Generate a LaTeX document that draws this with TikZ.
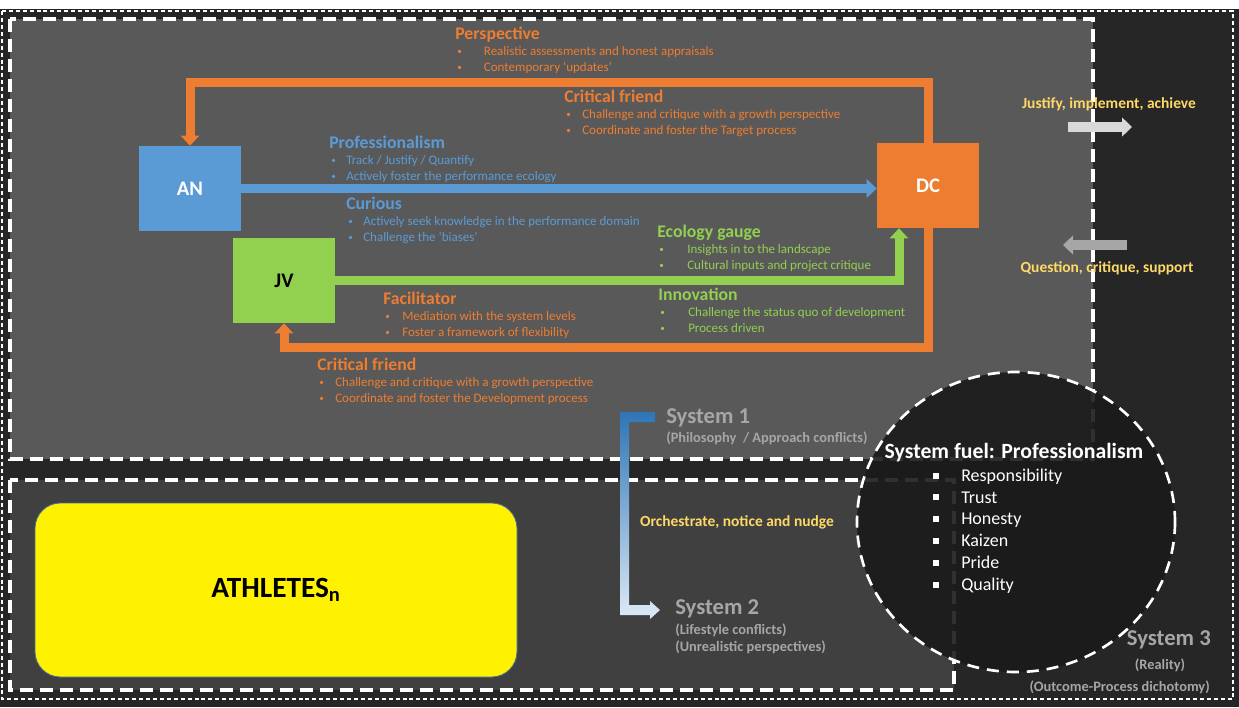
\documentclass[tikz,border=0pt]{standalone}
\usepackage{fontspec}
\setmainfont{Carlito}
\usetikzlibrary{arrows.meta,calc,positioning}

\definecolor{bgdark}{HTML}{262626}
\definecolor{sysonefill}{HTML}{595959}
\definecolor{systwofill}{HTML}{404040}
\definecolor{fuelfill}{HTML}{1A1A1A}
\definecolor{anblue}{HTML}{5B9BD5}
\definecolor{dcorange}{HTML}{ED7D31}
\definecolor{jvgreen}{HTML}{92D050}
\definecolor{noteyellow}{HTML}{FFD966}
\definecolor{sysgray}{HTML}{A6A6A6}
\definecolor{arrowlight}{HTML}{D9D9D9}
\definecolor{arrowmid}{HTML}{A6A6A6}
\definecolor{sysblue}{HTML}{2E75B6}
\definecolor{syspale}{HTML}{DEEBF7}

\newcommand{\smallbul}{\raisebox{0.5pt}{\scalebox{0.7}{\textbullet}}}
\newcommand{\rolenote}[8]{%
  \node[roletitle, text=#2] (#1) at (#3,#4) {#6};
  \node[roleitem, text=#2] (#1-a) at ($(#1.west)+(2,17)$) {\makebox[#5][l]{\smallbul}#7};
  \node[roleitem, text=#2] (#1-b) at ($(#1-a.west)+(0,16)$) {\makebox[#5][l]{\smallbul}#8};
}

\tikzset{
  role/.style={minimum width=76.5pt, minimum height=63.75pt, inner sep=0pt, font=\fontsize{15.5}{18}\selectfont\bfseries},
  roletitle/.style={anchor=west, inner sep=0pt, yshift=-1.5pt, text height=10pt, text depth=3pt, font=\fontsize{13.3}{16}\selectfont\bfseries},
  roleitem/.style={anchor=west, inner sep=0pt, text height=7.5pt, text depth=2.5pt, font=\fontsize{9.75}{12}\selectfont},
  flow/.style={line width=6.75pt, -{Triangle[width=13.5pt,length=7.5pt]}},
  blockarrow/.style={line width=7.5pt, -{Triangle[width=14pt,length=7.5pt]}},
  sysdash/.style={draw=white, line width=2.3pt, dash pattern=on 9.4pt off 5.6pt},
  note/.style={inner sep=0pt, text=noteyellow, font=\fontsize{11.6}{14}\selectfont\bfseries},
  syslabel/.style={anchor=west, inner sep=0pt, text=sysgray, font=\fontsize{17}{20}\selectfont\bfseries},
  syssub/.style={anchor=west, inner sep=0pt, text=sysgray, text height=7.5pt, text depth=2.5pt, font=\fontsize{10.8}{13}\selectfont\bfseries},
  fuelitem/.style={anchor=west, inner sep=0pt, text=white, text height=9.5pt, text depth=3pt, font=\fontsize{13.5}{16}\selectfont}
}

\begin{document}
\begin{tikzpicture}[x=0.75pt,y=-0.75pt,line join=miter]
\useasboundingbox (0,0) rectangle (1239,707);
\fill[white] (0,0) rectangle (1239,707);
\fill[bgdark] (0,9) rectangle (1239,707);
\draw[white, line width=0.8pt, dash pattern=on 3pt off 2.2pt] (2,11) rectangle (1233,699);

% system areas
\filldraw[fill=sysonefill, sysdash] (10,19) rectangle (1093,459);
\filldraw[fill=systwofill, sysdash] (10,480) rectangle (954,690);
\filldraw[fill=fuelfill, fill opacity=0.9, draw=white, line width=2pt, dash pattern=on 9pt off 6pt] (1016,522) ellipse [x radius=159, y radius=150];

% roles
\node[role, fill=anblue, text=white] (an) at (190,188.5) {AN};
\node[role, fill=jvgreen, text=black] (jv) at (284,280.5) {JV};
\node[role, fill=dcorange, text=white] (dc) at (928,185.5) {DC};
\coordinate (topturn) at (560,82);
\coordinate (lowturn) at (600,347);

\draw[flow, anblue] (an.east) -- (an.east -| dc.west);
\draw[flow, dcorange] (dc.north) |- (topturn) -| (an.north);
\draw[flow, jvgreen] (jv.east) -| ($(dc.south)+(-29,0)$);
\draw[flow, dcorange] (dc.south) |- (lowturn) -| (jv.south);

\rolenote{persp}{dcorange}{455}{33}{20pt}{Perspective}{Realistic assessments and honest appraisals}{Contemporary ‘updates’}
\rolenote{crittop}{dcorange}{564}{96}{12pt}{Critical friend}{Challenge and critique with a growth perspective}{Coordinate and foster the Target process}
\rolenote{prof}{anblue}{329}{142}{11.25pt}{Professionalism}{Track / Justify / Quantify}{Actively foster the performance ecology}
\rolenote{curious}{anblue}{346}{203}{11.25pt}{Curious}{Actively seek knowledge in the performance domain}{Challenge the ‘biases’}
\rolenote{ecology}{jvgreen}{657}{231}{21pt}{Ecology gauge}{Insights in to the landscape}{Cultural inputs and project critique}
\rolenote{facil}{dcorange}{383}{298}{12.75pt}{Facilitator}{Mediation with the system levels}{Foster a framework of flexibility}
\rolenote{innov}{jvgreen}{658}{294}{21pt}{Innovation}{Challenge the status quo of development}{Process driven}
\rolenote{critlow}{dcorange}{317}{364}{12pt}{Critical friend}{Challenge and critique with a growth perspective}{Coordinate and foster the Development process}

% system 3 traffic
\node[note] (justify) at (1109,104) {Justify, implement, achieve};
\node[note] (question) at (1107,268) {Question, critique, support};
\coordinate (jfrom) at (1068,127);
\coordinate (jto) at (1132,127);
\coordinate (qfrom) at (1127,245);
\coordinate (qto) at (1063,245);
\draw[blockarrow, arrowlight] (jfrom) -- (jto);
\draw[blockarrow, arrowmid] (qfrom) -- (qto);

% system 1 to system 2
\shade[top color=sysblue, bottom color=syspale] (620,412) -- (655,412) -- (655,422) -- (629,422) -- (629,605) -- (650,605) -- (650,601) -- (660,610) -- (650,619) -- (650,615) -- (620,615) -- cycle;
\node[syslabel] (sys1) at (666,418) {System 1};
\node[syssub] (sys1a) at (666,439) {(Philosophy\ \ / Approach conflicts)};
\node[note] (orch) at (737,522) {Orchestrate, notice and nudge};
\node[syslabel] (sys2) at (675,609) {System 2};
\node[syssub] (sys2a) at (675,631) {(Lifestyle conflicts)};
\node[syssub] (sys2b) at (675,648) {(Unrealistic perspectives)};
\node[syslabel, anchor=east] (sys3) at (1211,640) {System 3};
\node[syssub, anchor=center] (sys3a) at (1160,666) {(Reality)};
\node[syssub, anchor=east] (sys3b) at (1210,688) {(Outcome-Process dichotomy)};

% athletes
\node[fill=yellow, draw=anblue!70!black, line width=0.6pt, rounded corners=19pt, minimum width=361.5pt, minimum height=130.5pt, font=\fontsize{22}{26}\selectfont\bfseries] (athletes) at (276,590) {ATHLETES\textsubscript{n}};

% system fuel
\node[inner sep=0pt, text=white, font=\fontsize{16.3}{19}\selectfont\bfseries] (fuel) at (1014,453) {System fuel: Professionalism};
\foreach \w [count=\i] in {Responsibility,Trust,Honesty,Kaizen,Pride,Quality}
  \node[fuelitem] (fuel\i) at (933,455.2+21.8*\i) {\makebox[21pt][l]{\rule[2pt]{4.5pt}{4.5pt}}\w};
\end{tikzpicture}
\end{document}
